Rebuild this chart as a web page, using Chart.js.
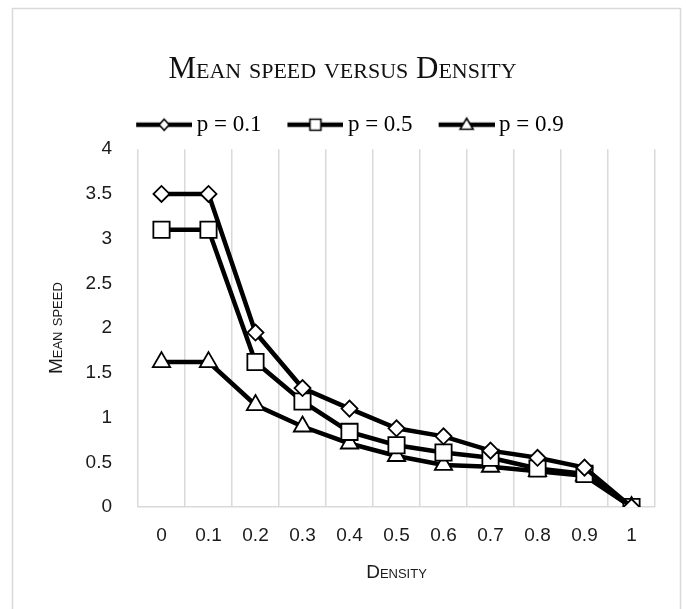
<!DOCTYPE html>
<html>
<head>
<meta charset="utf-8">
<script src="https://cdn.jsdelivr.net/npm/chart.js@4.4.1/dist/chart.umd.min.js"></script>
<style>
  html, body { margin: 0; padding: 0; background: #fff; }
</style>
</head>
<body>
<canvas id="speedChart" width="686" height="609"></canvas>
<script>
// density categories on the x axis
const densityLabels = ["0", "0.1", "0.2", "0.3", "0.4", "0.5", "0.6", "0.7", "0.8", "0.9", "1"];

// mean speed for each probability p
const speedP01 = [3.5, 3.5, 1.95, 1.33, 1.1, 0.88, 0.79, 0.63, 0.55, 0.44, 0];
const speedP05 = [3.1, 3.1, 1.62, 1.18, 0.84, 0.69, 0.61, 0.55, 0.43, 0.37, 0];
const speedP09 = [1.62, 1.62, 1.14, 0.9, 0.71, 0.57, 0.47, 0.45, 0.4, 0.35, 0];

const seriesNames = ["p = 0.1", "p = 0.5", "p = 0.9"];

const tickFont = { family: "'Liberation Sans', Arial, sans-serif", size: 19 };
const capsFont = (size) => ({ family: "'Liberation Sans', Arial, sans-serif", size: size, weight: "small-caps" });

// line+marker picture for the legend, like the Excel one
// (transparent on the left so the text gap stays small)
function legendIcon(shape) {
  const cv = document.createElement("canvas");
  cv.width = 72;
  cv.height = 20;
  const g = cv.getContext("2d");
  g.strokeStyle = "#000";
  g.lineWidth = 4.5;
  g.beginPath();
  g.moveTo(16, 10);
  g.lineTo(72, 10);
  g.stroke();
  g.fillStyle = "#fff";
  g.lineWidth = 1.6;
  g.beginPath();
  const cx = 44;
  if (shape === "diamond") {
    g.moveTo(cx, 4.5); g.lineTo(cx + 5, 10); g.lineTo(cx, 15.5); g.lineTo(cx - 5, 10); g.closePath();
  } else if (shape === "square") {
    g.rect(cx - 5.5, 4.5, 11, 11);
  } else {
    g.moveTo(cx, 3.5); g.lineTo(cx + 6.5, 14.5); g.lineTo(cx - 6.5, 14.5); g.closePath();
  }
  g.fill();
  g.stroke();
  return cv;
}
const legendIcons = [legendIcon("diamond"), legendIcon("square"), legendIcon("triangle")];

const framePlugin = {
  id: "frame",
  beforeDraw(chart) {
    const c = chart.ctx;
    c.save();
    c.fillStyle = "#fff";
    c.fillRect(0, 0, chart.width, chart.height);
    c.strokeStyle = "#d9d9d9";
    c.lineWidth = 1.5;
    c.strokeRect(12.5, 8.5, 668, 640);
    c.restore();
  }
};

// the legend in the original sits a little right of centre and a bit higher
const legendShift = {
  id: "legendShift",
  afterLayout(chart) {
    chart.legend.left += 3;
    chart.legend.right += 3;
    chart.legend.top -= 3;
    chart.legend.bottom -= 3;
  }
};

function series(label, data, style, radius) {
  return {
    label: label,
    data: data,
    borderColor: "#000",
    borderWidth: 4.5,
    pointStyle: style,
    pointRadius: radius,
    pointHoverRadius: radius,
    pointBorderWidth: 1.8,
    pointBorderColor: "#000",
    pointBackgroundColor: "#fff",
    tension: 0,
    fill: false
  };
}

const ctx = document.getElementById("speedChart").getContext("2d");

const speedChart = new Chart(ctx, {
  type: "line",
  data: {
    labels: densityLabels,
    datasets: [
      series(seriesNames[0], speedP01, "rectRot", 8),
      series(seriesNames[1], speedP05, "rect", 11.5),
      series(seriesNames[2], speedP09, "triangle", 10)
    ]
  },
  options: {
    responsive: false,
    animation: false,
    layout: {
      padding: { top: 0, left: 30, right: 31, bottom: 0 }
    },
    plugins: {
      title: {
        display: true,
        text: "Mean speed versus Density",
        color: "#111",
        font: { family: "'Liberation Serif', 'Times New Roman', serif", size: 31, weight: "small-caps" },
        padding: { top: 51, bottom: 11 }
      },
      legend: {
        display: true,
        position: "top",
        labels: {
          usePointStyle: true,
          pointStyleWidth: 58,
          padding: 17,
          color: "#000",
          font: { family: "'Liberation Serif', 'Times New Roman', serif", size: 23 },
          generateLabels: (chart) => chart.data.datasets.map((ds, i) => ({
            text: ds.label,
            pointStyle: legendIcons[i],
            datasetIndex: i,
            fontColor: "#000",
            hidden: false,
            lineWidth: 0
          }))
        }
      },
      tooltip: { enabled: false }
    },
    scales: {
      x: {
        offset: true,
        grid: { offset: true, color: "#d9d9d9", lineWidth: 1.5, drawTicks: false },
        border: { color: "#d9d9d9", width: 1.5 },
        ticks: { font: tickFont, color: "#1a1a1a", padding: 17, maxRotation: 0, autoSkip: false },
        title: {
          display: true,
          text: "Density",
          color: "#1a1a1a",
          font: capsFont(19),
          padding: { top: 0, bottom: 25 }
        },
        afterFit: (scale) => { scale.height = 102; }
      },
      y: {
        min: 0,
        max: 4,
        ticks: {
          stepSize: 0.5,
          font: tickFont,
          color: "#1a1a1a",
          padding: 26,
          callback: (value) => String(value)
        },
        grid: { display: false, drawTicks: false },
        border: { display: false },
        title: {
          display: true,
          text: "Mean speed",
          color: "#1a1a1a",
          font: capsFont(19),
          padding: { top: 15, bottom: 0 }
        },
        afterFit: (scale) => { scale.width = 108; }
      }
    }
  },
  plugins: [framePlugin, legendShift]
});
</script>
</body>
</html>
